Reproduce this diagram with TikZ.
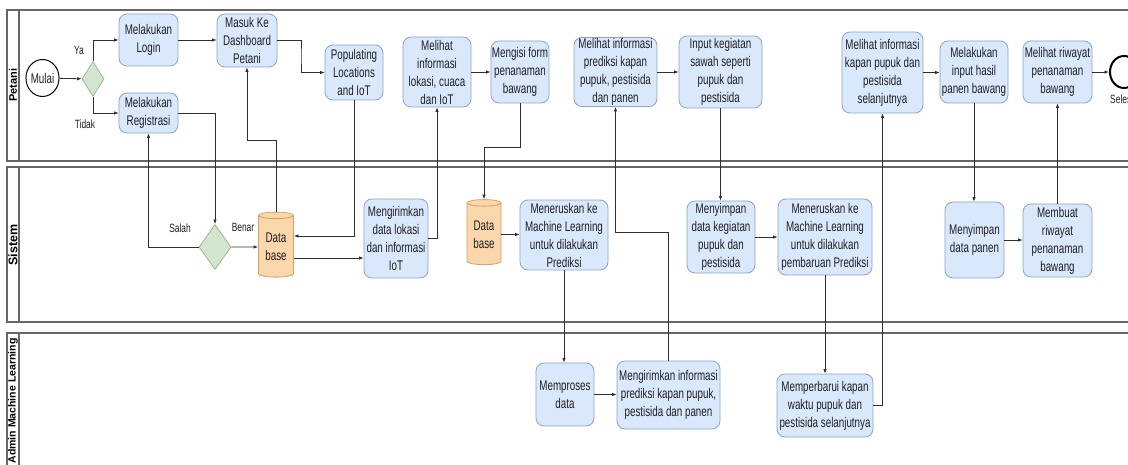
\documentclass[tikz,border=0pt]{standalone}
\usepackage{fontspec}
\setmainfont{Liberation Sans}
\newfontfamily\cond[FakeStretch=0.7]{Liberation Sans}
\usetikzlibrary{shapes.geometric,arrows.meta,calc}
\definecolor{boxfill}{HTML}{DAE8FC}
\definecolor{boxline}{HTML}{8BA4C8}
\definecolor{dbfill}{HTML}{F9D7AA}
\definecolor{dbline}{HTML}{D4A15E}
\definecolor{gfill}{HTML}{D2E6CF}
\definecolor{gline}{HTML}{96BC85}
\definecolor{linecol}{HTML}{2E2E2E}
\definecolor{lanecol}{HTML}{666666}
\definecolor{textcol}{HTML}{1F1F1F}
\tikzset{
  stepbox/.style={rounded corners=8pt, draw=boxline, line width=0.8pt, fill=boxfill,
    align=center, inner sep=1pt, text=textcol, font=\cond\fontsize{14}{18}\selectfont},
  dbnode/.style={cylinder, shape border rotate=90, aspect=0.28, draw=dbline, line width=0.8pt,
    fill=dbfill, align=center, inner sep=1pt, text=textcol, font=\cond\fontsize{14}{18}\selectfont},
  gate/.style={diamond, draw=gline, line width=0.8pt, fill=gfill, inner sep=0pt},
  arr/.style={draw=linecol, line width=0.8pt, -{Latex[length=4.5pt,width=3.5pt]}},
  lbl/.style={text=textcol, font=\cond\fontsize{12}{14}\selectfont, inner sep=0pt},
  lane/.style={draw=lanecol, line width=1.1pt},
  lanelbl/.style={rotate=90, font=\bfseries\fontsize{11}{13}\selectfont, text=black, inner sep=0pt},
  evt/.style={ellipse, draw=black, inner sep=0pt, text=textcol, font=\cond\fontsize{14}{18}\selectfont}
}
\begin{document}
\begin{tikzpicture}[x=1pt,y=-1pt]
\useasboundingbox (0,0) rectangle (1128,465);
\clip (0,0) rectangle (1128,465);
\fill[white] (0,0) rectangle (1128,465);
% lanes
\draw[lane] (7,10) rectangle (1150,161);
\draw[lane] (19,10) -- (19,161);
\draw[lane] (7,167) rectangle (1150,322);
\draw[lane] (19,167) -- (19,322);
\draw[lane] (7,333) rectangle (1150,480);
\draw[lane] (19,333) -- (19,480);
\node[lanelbl] (lp) at (13,85) {Petani};
\node[lanelbl, font=\bfseries\fontsize{12.5}{14}\selectfont] (ls) at (13,245) {Sistem};
\node[lanelbl, font=\bfseries\fontsize{10.5}{12}\selectfont] (la) at (13,401) {Admin Machine Learning};
% Petani nodes
\node[evt, line width=1pt, minimum width=32pt, minimum height=37pt] (mulai) at (42.5,78) {Mulai};
\node[gate, minimum width=22pt, minimum height=35pt] (d1) at (93,79) {};
\node[stepbox, minimum width=59pt, minimum height=52pt] (login) at (148.5,40) {Melakukan\\Login};
\node[stepbox, minimum width=59pt, minimum height=40pt] (reg) at (148.5,113) {Melakukan\\Registrasi};
\node[stepbox, minimum width=60pt, minimum height=53pt] (dash) at (247,40.5) {Masuk Ke\\Dashboard\\Petani};
\node[stepbox, minimum width=58pt, minimum height=55pt] (pop) at (354,72.5) {Populating\\Locations\\and IoT};
\node[stepbox, minimum width=68pt, minimum height=70pt] (lihat1) at (437,72) {Melihat\\informasi\\lokasi, cuaca\\dan IoT};
\node[stepbox, minimum width=58pt, minimum height=62pt] (isi) at (520,72) {Mengisi form\\penanaman\\bawang};
\node[stepbox, minimum width=83pt, minimum height=66pt] (lihat2) at (615.5,72) {Melihat informasi\\prediksi kapan\\pupuk, pestisida\\dan panen};
\node[stepbox, minimum width=83pt, minimum height=72pt] (input) at (720.5,72) {Input kegiatan\\sawah seperti\\pupuk dan\\pestisida};
\node[stepbox, minimum width=81pt, minimum height=81pt] (lihat3) at (882.5,72.5) {Melihat informasi\\kapan pupuk dan\\pestisida\\selanjutnya};
\node[stepbox, minimum width=68pt, minimum height=62pt] (inhasil) at (974,72) {Melakukan\\input hasil\\panen bawang};
\node[stepbox, minimum width=69pt, minimum height=62pt] (lriw) at (1057.5,72) {Melihat riwayat\\penanaman\\bawang};
\node[evt, line width=2pt, minimum width=28pt, minimum height=32pt] (end) at (1124,72) {};
\node[lbl, anchor=north] (endl) at (1124,95) {Selesai};
% Sistem nodes
\node[gate, minimum width=32pt, minimum height=45pt] (d2) at (215,247) {};
\node[dbnode, minimum width=35pt, minimum height=65pt] (db) at (276,247) {Data\\base};
\node[stepbox, minimum width=64pt, minimum height=79pt] (meng) at (396,238.5) {Mengirimkan\\data lokasi\\dan informasi\\IoT};
\node[dbnode, minimum width=34pt, minimum height=65pt] (db2) at (484,234.5) {Data\\base};
\node[stepbox, minimum width=88pt, minimum height=70pt] (ner1) at (564,235) {Meneruskan ke\\Machine Learning\\untuk dilakukan\\Prediksi};
\node[stepbox, minimum width=68pt, minimum height=72pt] (simpan1) at (721,237) {Menyimpan\\data kegiatan\\pupuk dan\\pestisida};
\node[stepbox, minimum width=94pt, minimum height=76pt] (ner2) at (825,237) {Meneruskan ke\\Machine Learning\\untuk dilakukan\\pembaruan Prediksi};
\node[stepbox, minimum width=59pt, minimum height=76pt] (simpan2) at (974.5,240) {Menyimpan\\data panen};
\node[stepbox, minimum width=69pt, minimum height=73pt] (riwayat) at (1057.5,240.5) {Membuat\\riwayat\\penanaman\\bawang};
% Admin nodes
\node[stepbox, minimum width=58pt, minimum height=63pt] (mproses) at (565,394.5) {Memproses\\data};
\node[stepbox, minimum width=103pt, minimum height=68pt] (kirim) at (668.5,395) {Mengirimkan informasi\\prediksi kapan pupuk,\\pestisida dan panen};
\node[stepbox, minimum width=96pt, minimum height=63pt] (perb) at (825,405.5) {Memperbarui kapan\\waktu pupuk dan\\pestisida selanjutnya};
% connectors
\draw[arr] (mulai) -- (d1);
\draw[arr] (d1.north) |- (login.west);
\draw[arr] (d1.south) |- (reg.west);
\node[lbl] (ya) at (79,50) {Ya};
\node[lbl] (tidak) at (85,124) {Tidak};
\draw[arr] (login.east) -- (login.east -| dash.west);
\draw[arr] (reg.east) -| (d2.north);
\draw[arr] (d2.west) -| (reg.south);
\node[lbl] (salah) at (180,228) {Salah};
\node[lbl] (benar) at (243,227) {Benar};
\draw[arr] (d2.east) -- (db.west);
\coordinate (c1) at (247,140);
\draw[arr] (db.north) |- (c1) -- (dash.south);
\draw[arr] (dash.east) -| ($(dash.east)!0.5!(pop.west)$) |- (pop.west);
\draw[arr] (pop.south) |- ([yshift=11pt]db.east);
\draw[arr] ([yshift=-11pt]db.east) -- ([yshift=-11pt]db.east -| meng.west);
\draw[arr] (meng.east) -| (lihat1.south);
\draw[arr] (lihat1.east) -- (isi.west);
\draw[arr] (isi.south) -- ++(0,44) -| (db2.north);
\draw[arr] (db2.east) -- (db2.east -| ner1.west);
\draw[arr] (ner1.south) -- (ner1.south |- mproses.north);
\draw[arr] (mproses.east) -- (mproses.east -| kirim.west);
\draw[arr] (kirim.north) -- ++(0,-128) -| (lihat2.south);
\draw[arr] (lihat2.east) -- (input.west);
\draw[arr] (input.south) -- (input.south |- simpan1.north);
\draw[arr] (simpan1.east) -- (ner2.west);
\draw[arr] (ner2.south) -- (perb.north);
\draw[arr] (perb.east) -| (lihat3.south);
\draw[arr] (lihat3.east) -- (lihat3.east -| inhasil.west);
\draw[arr] (inhasil.south) -- (inhasil.south |- simpan2.north);
\draw[arr] (simpan2.east) -- (simpan2.east -| riwayat.west);
\draw[arr] (riwayat.north) -- (riwayat.north |- lriw.south);
\draw[arr] (lriw.east) -- (end.west);
\end{tikzpicture}
\end{document}
